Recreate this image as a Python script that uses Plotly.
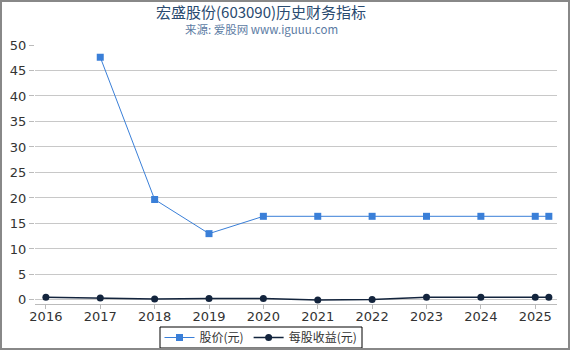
import plotly.graph_objects as go

price_x = [2017, 2018, 2019, 2020, 2021, 2022, 2023, 2024, 2025, 2025.25]
price_y = [47.6, 19.7, 13.0, 16.4, 16.4, 16.4, 16.4, 16.4, 16.4, 16.4]
eps_x = [2016, 2017, 2018, 2019, 2020, 2021, 2022, 2023, 2024, 2025, 2025.25]
eps_y = [0.5, 0.4, 0.2, 0.3, 0.3, 0.0, 0.1, 0.5, 0.5, 0.5, 0.5]
year_ticks = [2016, 2017, 2018, 2019, 2020, 2021, 2022, 2023, 2024, 2025]

W, H = 570, 350
L, R, T, B = 35, 13, 45, 46
pw, ph = W - L - R, H - T - B
CX = (261 - L) / pw
LEG_L, LEG_R, LEG_T, LEG_B = 160, 362, 327, 348

fig = go.Figure()
fig.add_trace(go.Scatter(x=price_x, y=price_y, name="股价(元)", mode="lines+markers",
                         line=dict(color="#3a7fd8", width=1),
                         marker=dict(symbol="square", size=7, color="#3a7fd8")))
fig.add_trace(go.Scatter(x=eps_x, y=eps_y, name="每股收益(元)", mode="lines+markers",
                         line=dict(color="#13243d", width=1.5),
                         marker=dict(symbol="circle", size=7, color="#13243d")))

def px_y(y):
    return (H - B - y) / ph

def px_x(x):
    return (x - L) / pw

fig.update_layout(
    width=W, height=H,
    margin=dict(l=L, r=R, t=T, b=B, autoexpand=False),
    paper_bgcolor="white", plot_bgcolor="white",
    font=dict(family="DejaVu Sans, Noto Sans CJK SC", size=13, color="#333333"),
    showlegend=True,
    legend=dict(orientation="h", x=CX, xanchor="center", y=px_y((LEG_T + LEG_B) / 2), yanchor="middle",
                borderwidth=0, bgcolor="rgba(0,0,0,0)",
                font=dict(family="Noto Sans CJK SC, DejaVu Sans", size=12, color="#333333"),
                itemwidth=30, tracegroupgap=0),
    xaxis=dict(range=[2015.8, 2025.4], tickvals=year_ticks, ticks="outside", ticklen=4,
               ticklabelstandoff=-4,
               tickcolor="#bbbbbb", showgrid=False, showline=True, linecolor="#bbbbbb",
               zeroline=False, tickfont=dict(size=13, color="#333333")),
    yaxis=dict(range=[-0.8, 50], tickvals=list(range(0, 51, 5)), ticks="outside", ticklen=5,
               tickcolor="#bbbbbb", showgrid=True, gridcolor="#c8c8c8", showline=False,
               zeroline=False, tickfont=dict(size=13, color="#333333")),
    annotations=[
        dict(text="宏盛股份(603090)历史财务指标", xref="paper", yref="paper",
             x=CX, y=px_y(11), xanchor="center", yanchor="middle",
             showarrow=False, font=dict(family="Noto Sans CJK SC, DejaVu Sans", size=15, color="#2a4b70")),
        dict(text="来源: 爱股网 www.iguuu.com", xref="paper", yref="paper",
             x=CX, y=px_y(29), xanchor="center", yanchor="middle",
             showarrow=False, font=dict(family="Noto Sans CJK SC, DejaVu Sans", size=11.5, color="#5b7ba3")),
    ],
    shapes=[
        dict(type="rect", xref="paper", yref="paper",
             x0=px_x(1), x1=px_x(W - 1), y0=px_y(H - 1), y1=px_y(1),
             line=dict(color="#888888", width=2)),
        dict(type="rect", xref="paper", yref="paper",
             x0=px_x(LEG_L), x1=px_x(LEG_R), y0=px_y(LEG_B), y1=px_y(LEG_T),
             line=dict(color="#000000", width=1), fillcolor="white", layer="below"),
    ],
)

fig.write_html("out.html")
